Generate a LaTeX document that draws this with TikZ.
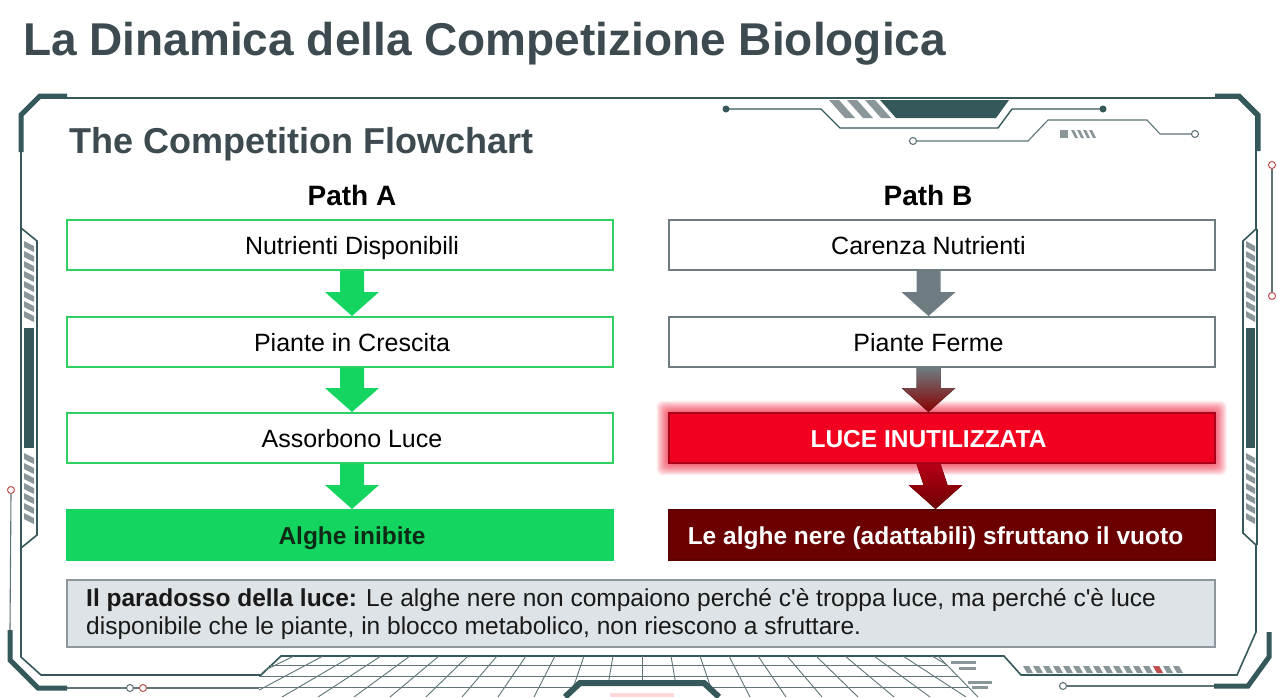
\documentclass[tikz,border=0pt]{standalone}
\usepackage{fontspec}
\setmainfont{Liberation Sans}
\usepackage{tikz}
\usetikzlibrary{positioning,calc}

\definecolor{frameteal}{HTML}{35585A}
\definecolor{titlegray}{HTML}{3D4A50}
\definecolor{stripegray}{HTML}{8A9699}
\definecolor{gridgray}{HTML}{5E7476}
\definecolor{okgreen}{HTML}{2FD163}
\definecolor{okfill}{HTML}{14D55F}
\definecolor{okink}{HTML}{0E2A16}
\definecolor{boxgray}{HTML}{6E7B80}
\definecolor{alarmred}{HTML}{F2001F}
\definecolor{alarmedge}{HTML}{A8001A}
\definecolor{darkred}{HTML}{6B0000}
\definecolor{notefill}{HTML}{DDE3E6}
\definecolor{noteedge}{HTML}{8E989C}
\definecolor{dotred}{HTML}{C0504D}

\tikzset{
  flowbox/.style={minimum width=546pt, minimum height=50pt, inner sep=0pt, line width=2pt},
  greenbox/.style={flowbox, draw=okgreen, fill=white},
  greenend/.style={flowbox, draw=okfill, fill=okfill},
  graybox/.style={flowbox, draw=boxgray, fill=white},
  redbox/.style={flowbox, draw=alarmedge, fill=alarmred},
  darkbox/.style={flowbox, draw=darkred!85!black, fill=darkred},
  boxtext/.style={anchor=base, inner sep=0pt, font=\fontsize{25}{28}\selectfont},
  boldtext/.style={anchor=base, inner sep=0pt, font=\bfseries\fontsize{24.5}{28}\selectfont},
  pathhead/.style={anchor=base, inner sep=0pt, font=\bfseries\fontsize{28}{30}\selectfont},
  frameline/.style={frameteal, line width=1.6pt, line join=miter},
  framethick/.style={frameteal, line width=5pt},
  thinwire/.style={gridgray, line width=1.1pt},
  gridline/.style={gridgray, line width=0.9pt},
}

% block arrow between two boxes, centred on their text
\newcommand{\blockarrow}[3]{%
  \fill[#3] ($(t#1 |- box#1.south)+(-12,0)$) -- ($(t#1 |- box#1.south)+(12,0)$)
    -- ($(t#2 |- box#2.north)+(12,-24)$) -- ($(t#2 |- box#2.north)+(27,-24)$)
    -- (t#2 |- box#2.north) -- ($(t#2 |- box#2.north)+(-27,-24)$)
    -- ($(t#2 |- box#2.north)+(-12,-24)$) -- cycle;
}

\begin{document}
\begin{tikzpicture}[x=1pt, y=-1pt]
\useasboundingbox (0,0) rectangle (1277,697);
\fill[white] (0,0) rectangle (1277,697);

% Titles
\node[anchor=base west, inner sep=0pt, text=titlegray, font=\bfseries\fontsize{46}{50}\selectfont] (title) at (23,55) {La Dinamica della Competizione Biologica};
\node[anchor=base west, inner sep=0pt, text=titlegray, font=\bfseries\fontsize{36}{40}\selectfont] (subtitle) at (69,153) {The Competition Flowchart};

% Frame
\draw[frameline] (21,115) -- (40,98) -- (1238,98) -- (1256,116) -- (1256,229) -- (1243,241) -- (1243,533) -- (1256,545) -- (1256,632) -- (1237,675) -- (1021,675) -- (1004,656) -- (281,656) -- (261,675) -- (41,675) -- (21,657) -- (21,548) -- (37,535) -- (37,241) -- (21,228) -- cycle;
\draw[frameline] (21,228) -- (21,548);
\draw[frameline] (1257,229) -- (1257,545);

% Thick corners
\draw[framethick] (67,96) -- (40,96) -- (21,115) -- (21,152);
\draw[framethick] (1215,96) -- (1239,96) -- (1258,115) -- (1258,151);
\draw[framethick] (10,630) -- (10,660) -- (38,688) -- (67,688);
\draw[framethick] (1269,632) -- (1269,657) -- (1248,686) -- (1214,686);

% Side panels
\foreach \s in {0,...,7} {
  \fill[stripegray] (24,241+10*\s) -- (34,246+10*\s) -- (34,252+10*\s) -- (24,247+10*\s) -- cycle;
  \fill[stripegray] (1246,241+10*\s) -- (1255,246+10*\s) -- (1255,252+10*\s) -- (1246,247+10*\s) -- cycle;
}
\fill[frameteal] (24,328) rectangle (34,448);
\fill[frameteal] (1246,328) rectangle (1255,448);
\foreach \s in {0,...,6} {
  \fill[stripegray] (24,453+10*\s) -- (34,458+10*\s) -- (34,464+10*\s) -- (24,459+10*\s) -- cycle;
  \fill[stripegray] (1246,453+10*\s) -- (1255,458+10*\s) -- (1255,464+10*\s) -- (1246,459+10*\s) -- cycle;
}

% Side wires with small rings
\draw[thinwire] (11,494) -- (10,630);
\draw[dotred, line width=1pt, fill=white] (11,490) circle[radius=3.5pt];
\draw[thinwire] (1272,169) -- (1272,292);
\draw[dotred, line width=1pt, fill=white] (1272,165) circle[radius=3.5pt];
\draw[dotred, line width=1pt, fill=white] (1272,296) circle[radius=3.5pt];

% Top decoration
\draw[frameline, line width=1.4pt] (726,109) -- (821,109) -- (840,128) -- (998,128) -- (1012,109) -- (1103,109);
\fill[frameteal] (726,109) circle[radius=3.5pt];
\fill[frameteal] (1103,109) circle[radius=3.5pt];
\foreach \k in {0,1,2}
  \fill[stripegray] (829+18*\k,100) -- (839+18*\k,100) -- (855+18*\k,118) -- (845+18*\k,118) -- cycle;
\fill[frameteal] (880,100) -- (1009,100) -- (996,118) -- (896,118) -- cycle;
\draw[thinwire] (917,141) -- (1028,141) -- (1048,120) -- (1147,120) -- (1160,134) -- (1191,134);
\draw[thinwire, fill=white] (913,141) circle[radius=3.5pt];
\draw[thinwire, fill=white] (1195,134) circle[radius=3.5pt];
\fill[stripegray] (1060,130) rectangle (1068,138);
\foreach \k in {0,...,3}
  \fill[stripegray] (1071+6*\k,130) -- (1074+6*\k,130) -- (1078+6*\k,138) -- (1075+6*\k,138) -- cycle;

% Bottom grid
\begin{scope}
  \clip (259,675) -- (280,656) -- (938,656) -- (978,697) -- (259,697) -- cycle;
  \foreach \i in {-13,...,12}
    \draw[gridline] (642+29*\i,656) -- (642+36*\i,697);
  \foreach \y in {665,676,687}
    \draw[gridline] (250,\y) -- (990,\y);
\end{scope}
\draw[gridline] (938,656) -- (978,697);
\fill[white] (565,697) -- (580,683) -- (704,683) -- (719,697) -- cycle;
\fill[red!15] (610,693) rectangle (674,697);
\draw[framethick, line width=6pt] (565,697) -- (580,683) -- (704,683) -- (719,697);

% Bottom wires and marks
\draw[thinwire] (67,688) -- (259,688);
\draw[thinwire, fill=white] (130,688) circle[radius=3.5pt];
\draw[dotred, line width=1pt, fill=white] (143,688) circle[radius=3.5pt];
\draw[thinwire] (1067,686) -- (1214,686);
\draw[thinwire, fill=white] (1063,686) circle[radius=3.5pt];
\foreach \a/\b/\y in {951/976/662, 959/976/668, 968/992/682, 972/988/687}
  \draw[stripegray, line width=3pt] (\a,\y) -- (\b,\y);
\foreach \k in {0,...,15}
  \fill[stripegray] (1023+10*\k,666) -- (1029+10*\k,666) -- (1033+10*\k,673) -- (1027+10*\k,673) -- cycle;
\fill[dotred] (1153,666) -- (1159,666) -- (1163,673) -- (1157,673) -- cycle;

% Column headings
\node[pathhead] (pathA) at (352,205) {Path A};
\node[pathhead] (pathB) at (928,205) {Path B};

% Path A boxes
\node[greenbox] (boxA1) at (340,245) {};
\node[greenbox] (boxA2) at (340,342) {};
\node[greenbox] (boxA3) at (340,438) {};
\node[greenend] (boxA4) at (340,535) {};
\node[boxtext] (tA1) at ($(boxA1)+(12,9)$) {Nutrienti Disponibili};
\node[boxtext] (tA2) at ($(boxA2)+(12,9)$) {Piante in Crescita};
\node[boxtext] (tA3) at ($(boxA3)+(12,9)$) {Assorbono Luce};
\node[boldtext, text=okink] (tA4) at ($(boxA4)+(12,9)$) {Alghe inibite};

% Path B boxes (glow first)
\foreach \g in {1,...,12}
  \fill[alarmred, opacity=0.07, rounded corners=5pt] ($(941.5,438)+(-273-\g,-25-\g)$) rectangle ($(941.5,438)+(273+\g,25+\g)$);
\node[graybox] (boxB1) at (941.5,245) {};
\node[graybox] (boxB2) at (941.5,342) {};
\node[redbox] (boxB3) at (941.5,438) {};
\node[darkbox] (boxB4) at (941.5,535) {};
\node[boxtext] (tB1) at ($(boxB1)+(-13,9)$) {Carenza Nutrienti};
\node[boxtext] (tB2) at ($(boxB2)+(-13,9)$) {Piante Ferme};
\node[boldtext, text=white] (tB3) at ($(boxB3)+(-13,9)$) {LUCE INUTILIZZATA};
\node[boldtext, text=white] (tB4) at ($(boxB4)+(-6,9)$) {Le alghe nere (adattabili) sfruttano il vuoto};

% Arrows
\blockarrow{A1}{A2}{okfill}
\blockarrow{A2}{A3}{okfill}
\blockarrow{A3}{A4}{okfill}
\blockarrow{B1}{B2}{boxgray}
\blockarrow{B2}{B3}{top color=boxgray, bottom color=darkred!80!red}
\blockarrow{B3}{B4}{top color=alarmred!75!black, bottom color=darkred}

% Note at the bottom
\node[draw=noteedge, fill=notefill, line width=1.5pt, minimum width=1148pt, minimum height=67pt, inner sep=0pt] (note) at (641,613.5) {};
\node[anchor=west, align=left, inner sep=0pt, text=black!90, font=\fontsize{24.5}{28}\selectfont] (notetext) at (86,614) {\textbf{Il paradosso della luce:} Le alghe nere non compaiono perché c\textquotesingle è troppa luce, ma perché c\textquotesingle è luce\\disponibile che le piante, in blocco metabolico, non riescono a sfruttare.};

\end{tikzpicture}
\end{document}
